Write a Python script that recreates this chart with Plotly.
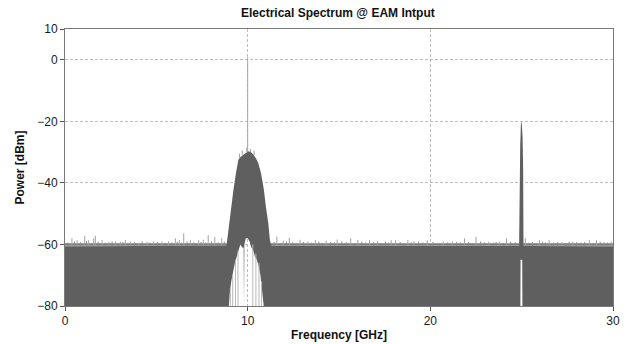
import plotly.graph_objects as go

# ---- data ----
# upper envelope of the spectrum (GHz, dBm)
top_freq = [0, 8.80, 8.85, 8.99, 9.09, 9.22, 9.36, 9.49, 9.62, 9.76, 9.90, 10.03,
            10.17, 10.31, 10.45, 10.58, 10.73, 10.89, 11.00, 11.13, 11.22, 11.31,
            24.86, 24.88, 24.92, 24.96, 24.98, 25.01, 25.05, 25.08, 25.10, 30]
top_db = [-60.6, -60.4, -60.0, -53.2, -47.8, -42.3, -36.8, -32.5, -31.5, -30.8, -30.2, -29.7,
          -30.0, -30.8, -32.0, -33.5, -36.8, -42.3, -47.8, -53.2, -58.7, -60.5,
          -60.5, -38.0, -28.0, -20.5, -20.0, -21.0, -25.0, -35.0, -60.5, -60.6]

# lower envelope of the spectrum (below -80 it is clipped by the axis)
bot_freq = [0, 8.97, 9.02, 9.10, 9.20, 9.30, 9.40, 9.50, 9.60, 9.70, 9.78, 9.80, 9.82,
            9.90, 10.00, 10.10, 10.20, 10.30, 10.40, 10.50, 10.60, 10.70, 10.80, 10.88,
            24.93, 24.94, 25.03, 25.04, 30]
bot_db = [-80, -80, -76, -72, -69, -66, -64, -62, -60, -61, -61, -80, -60,
          -58, -58, -59, -61, -62, -64, -65, -67, -70, -75, -80,
          -80, -65, -65, -80, -80]

# light streaks inside the white gap under the 10 GHz band
streak_freq = [9.05, 9.18, 9.33, 9.47, 10.28, 10.45, 10.62, 10.76]
streak_top = [-74, -70, -65, -62, -60, -63, -66, -72]

# grey fuzz on top of the noise floor
fuzz_freq = [0, 8.86, None, 11.28, 24.88, None, 25.08, 30]
fuzz_db = [-60.0, -60.0, None, -60.0, -60.0, None, -60.0, -60.0]

# larger noise spikes: frequency, base level, peak level
spike_freq = [0.38, 0.66, 1.08, 1.30, 1.57, 1.66, 2.03, 2.40, 2.76, 3.03, 3.30, 3.58, 4.03,
              4.49, 4.85, 5.31, 5.67, 6.04, 6.26, 6.50, 6.86, 7.32, 7.57, 7.84, 8.20, 8.58,
              9.55, 9.70, 9.95, 10.15, 10.35,
              11.60, 11.95, 12.28, 12.87, 13.30, 13.70, 14.30, 14.90, 15.64, 16.03, 16.67,
              17.10, 17.86, 18.10, 18.77, 19.10, 19.83, 20.70, 21.20, 21.87, 22.50, 23.20,
              23.77, 24.17, 25.20, 25.97, 26.50, 27.20, 27.80, 28.70, 29.10, 29.90]
spike_base = [-60.5] * 26 + [-32.0, -31.0, -30.0, -30.0, -31.0] + [-60.5] * 32
spike_top = [-58.0, -58.6, -57.2, -58.6, -58.0, -57.2, -58.6, -59.2, -59.0, -59.1, -58.6, -59.0, -59.5,
             -59.1, -59.0, -59.1, -59.0, -58.0, -58.6, -56.4, -58.6, -58.6, -58.5, -57.0, -57.6, -58.0,
             -30.5, -29.5, -28.5, -29.0, -29.5,
             -57.5, -58.8, -57.9, -58.5, -59.0, -58.6, -58.8, -58.4, -58.0, -58.6, -58.6,
             -59.0, -58.6, -58.6, -58.6, -59.0, -58.6, -59.0, -59.0, -58.0, -57.5, -59.1,
             -59.1, -58.0, -58.0, -58.6, -58.6, -59.2, -59.1, -58.6, -58.6, -59.1]

# small noise spikes along the floor (peak level, base is the floor)
small_freq = [0.15, 0.52, 0.85, 1.18, 1.45, 1.82, 2.20, 2.58, 2.92, 3.17, 3.45, 3.80, 4.22,
              4.65, 5.05, 5.48, 5.85, 6.15, 6.38, 6.68, 7.05, 7.18, 7.45, 7.70, 8.02, 8.38, 8.72,
              11.45, 11.78, 12.12, 12.45, 12.65, 13.05, 13.50, 13.90, 14.10, 14.55, 14.75, 15.15,
              15.40, 15.85, 16.25, 16.45, 16.90, 17.30, 17.55, 17.70, 18.35, 18.55, 18.95, 19.35,
              19.60, 20.15, 20.40, 20.95, 21.45, 21.65, 22.10, 22.30, 22.75, 22.95, 23.45, 23.60,
              24.00, 24.40, 24.65, 25.40, 25.60, 25.80, 26.15, 26.30, 26.75, 26.95, 27.40, 27.60,
              28.00, 28.25, 28.45, 28.90, 29.30, 29.50, 29.70]
small_top = [-59.4, -59.0, -59.3, -58.9, -59.5, -59.1, -59.4, -59.0, -59.6, -59.2, -59.5, -59.3, -59.0,
             -59.4, -59.2, -59.5, -59.3, -59.1, -59.4, -59.0, -59.3, -59.6, -59.2, -59.4, -59.0, -59.3, -59.1,
             -59.2, -59.5, -59.0, -59.3, -59.6, -59.2, -59.4, -59.1, -59.5, -59.2, -59.4, -59.0,
             -59.3, -59.5, -59.1, -59.4, -59.2, -59.5, -59.1, -59.4, -59.2, -59.5, -59.3, -59.1,
             -59.4, -59.2, -59.5, -59.3, -59.1, -59.4, -59.2, -59.5, -59.0, -59.3, -59.4, -59.2,
             -59.5, -59.1, -59.3, -59.4, -59.2, -59.5, -59.1, -59.3, -59.4, -59.2, -59.5, -59.1,
             -59.3, -59.4, -59.2, -59.5, -59.1, -59.3, -59.4]
floor_base = -60.5
gap_floor = -80

# carrier line at 10 GHz
carrier_freq = [10.0, 10.0]
carrier_db = [-30.0, 0.8]

x_ticks = [0, 10, 20, 30]
y_ticks = [10, 0, -20, -40, -60, -80]

# ---- figure ----
dark = "#5f5f5f"
fig = go.Figure()

fig.add_trace(go.Scatter(x=fuzz_freq, y=fuzz_db, mode="lines",
                         line=dict(color="#7c7c7c", width=2.4), hoverinfo="skip"))

poly_x = top_freq + bot_freq[::-1]
poly_y = top_db + bot_db[::-1]
fig.add_trace(go.Scatter(x=poly_x, y=poly_y, mode="lines", fill="toself",
                         fillcolor=dark, line=dict(width=0, color=dark), hoverinfo="skip"))

gx, gy = [], []
for f, t in zip(streak_freq, streak_top):
    gx += [f, f, None]
    gy += [gap_floor, t, None]
fig.add_trace(go.Scatter(x=gx, y=gy, mode="lines",
                         line=dict(color="#b8b8b8", width=1), hoverinfo="skip"))

ssx, ssy = [], []
for f, t in zip(small_freq, small_top):
    ssx += [f, f, None]
    ssy += [floor_base, t, None]
fig.add_trace(go.Scatter(x=ssx, y=ssy, mode="lines",
                         line=dict(color="#8a8a8a", width=1), hoverinfo="skip"))

sx, sy = [], []
for f, b, t in zip(spike_freq, spike_base, spike_top):
    sx += [f, f, None]
    sy += [b, t, None]
fig.add_trace(go.Scatter(x=sx, y=sy, mode="lines",
                         line=dict(color="#a0a0a0", width=1), hoverinfo="skip"))

fig.add_trace(go.Scatter(x=carrier_freq, y=carrier_db, mode="lines",
                         line=dict(color="#a8a8a8", width=1), hoverinfo="skip"))

font = "Liberation Sans, Arial, sans-serif"
axis_common = dict(
    showline=True, linecolor="#7a7a7a", linewidth=1, mirror=True,
    showgrid=True, gridcolor="#bdbdbd", gridwidth=1, griddash="3px,2px",
    zeroline=False, ticks="outside", ticklen=4, tickcolor="#555555",
    tickfont=dict(family=font, size=12, color="#1a1a1a"),
    automargin=False,
)

fig.update_layout(
    template="none",
    width=628, height=344,
    margin=dict(l=65, r=15, t=29, b=38, autoexpand=False),
    paper_bgcolor="white", plot_bgcolor="white",
    showlegend=False,
    title=dict(text="<b>Electrical Spectrum @ EAM Intput</b>", x=0.538, xanchor="center",
               y=0.964, yanchor="middle",
               font=dict(family=font, size=12, color="#111111")),
    xaxis=dict(range=[0, 30], tickvals=x_ticks,
               title=dict(text="<b>Frequency [GHz]</b>", standoff=3,
                          font=dict(family=font, size=12, color="#111111")),
               **axis_common),
    yaxis=dict(range=[-80, 10], tickvals=y_ticks,
               title=dict(text="<b>Power [dBm]</b>", standoff=10,
                          font=dict(family=font, size=12, color="#111111")),
               **axis_common),
)

fig.write_html(
    "out.html",
    config={"displayModeBar": False},
    post_script="document.documentElement.style.margin='0';document.body.style.margin='0';"
                "document.body.style.overflow='hidden';",
)
